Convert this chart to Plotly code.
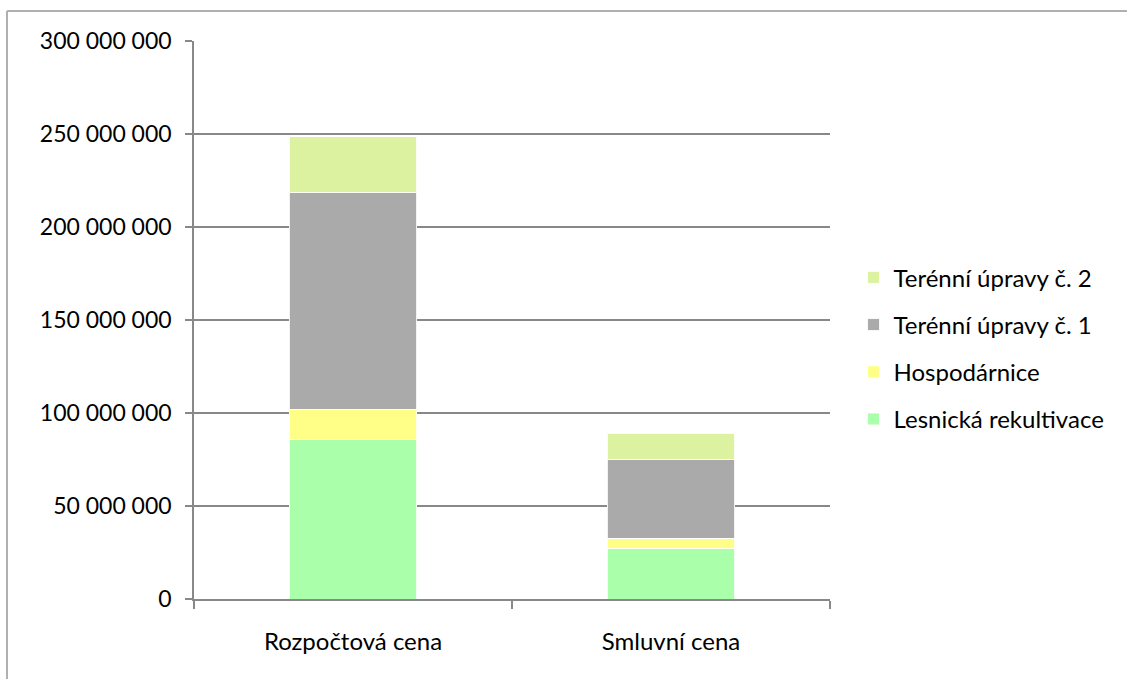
import plotly.graph_objects as go

categories = ["Rozpočtová cena", "Smluvní cena"]
series_names = ["Lesnická rekultivace", "Hospodárnice", "Terénní úpravy č. 1", "Terénní úpravy č. 2"]
lesnicka = [85_600_000, 27_000_000]
hospodarnice = [16_300_000, 5_600_000]
upravy_1 = [116_600_000, 42_600_000]
upravy_2 = [30_100_000, 13_800_000]
y_ticks = [0, 50_000_000, 100_000_000, 150_000_000, 200_000_000, 250_000_000, 300_000_000]

colors = ["#AAFFAA", "#FFFF88", "#AAAAAA", "#DCF2A0"]
values = [lesnicka, hospodarnice, upravy_1, upravy_2]

FONT = "Lato, Carlito, Calibri, sans-serif"
GRID = "#888888"

fig = go.Figure()
for i, (name, vals, col) in enumerate(zip(series_names, values, colors)):
    fig.add_trace(go.Bar(
        x=categories, y=vals, name=name, legendgroup=name,
        legendrank=len(series_names) - i,
        marker=dict(color=col, line=dict(color="rgba(255,255,255,0.85)", width=1)),
        width=0.4,
    ))

fig.update_layout(
    width=1127, height=679,
    barmode="stack",
    separators=", ",
    paper_bgcolor="white", plot_bgcolor="white",
    margin=dict(l=194, r=297, t=41, b=80),
    font=dict(family=FONT, size=24, color="#000000"),
    showlegend=True,
    legend=dict(
        x=1.037, xanchor="left", y=0.616, yanchor="top",
        traceorder="grouped", tracegroupgap=13,
        font=dict(family=FONT, size=24, color="#000000"),
        bgcolor="rgba(0,0,0,0)",
    ),
    xaxis=dict(
        type="category",
        showline=True, linecolor=GRID, linewidth=1.5,
        ticks="outside", ticklen=8, tickcolor=GRID, tickwidth=1.5,
        tickson="boundaries", showgrid=False,
        ticklabelstandoff=20,
        tickfont=dict(family=FONT, size=24, color="#000000"),
    ),
    yaxis=dict(
        range=[0, 300_000_000], tickvals=y_ticks, tickformat=",d",
        showline=True, linecolor=GRID, linewidth=1.5,
        showgrid=True, gridcolor=GRID, gridwidth=1.5,
        ticks="outside", ticklen=7, tickcolor=GRID, tickwidth=1.5,
        ticklabelstandoff=9, zeroline=False,
        tickfont=dict(family=FONT, size=23, color="#000000"),
    ),
    shapes=[
        dict(type="line", xref="paper", yref="paper",
             x0=(7 - 194) / 636, x1=(7 - 194) / 636,
             y0=(599.3 - 11) / 558.3, y1=-0.2,
             line=dict(color="#B0B0B0", width=2)),
        dict(type="line", xref="paper", yref="paper",
             x0=(7 - 194) / 636, x1=(1127 - 194) / 636,
             y0=(599.3 - 11) / 558.3, y1=(599.3 - 11) / 558.3,
             line=dict(color="#B0B0B0", width=2)),
    ],
)

fig.write_html("out.html")
